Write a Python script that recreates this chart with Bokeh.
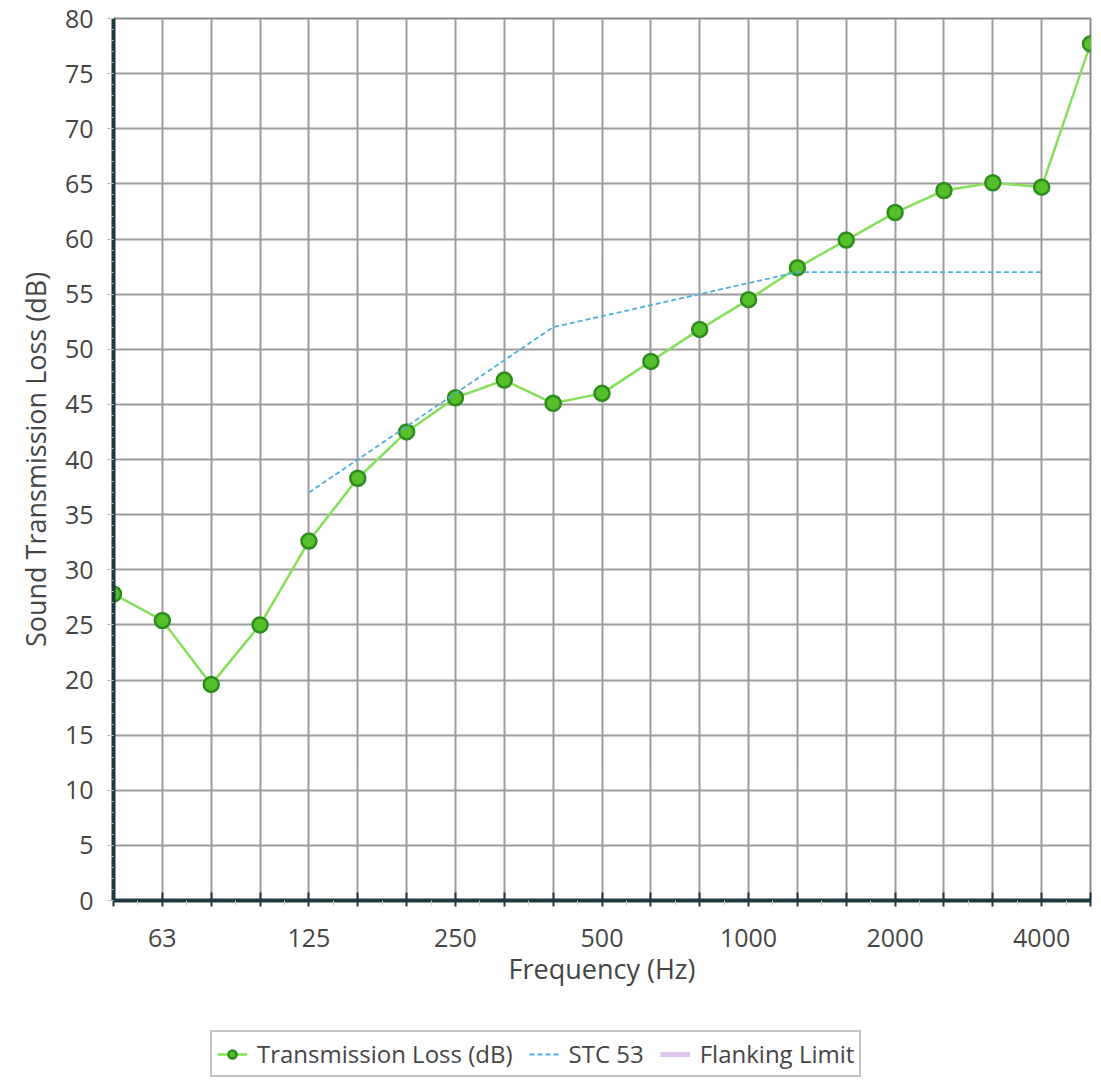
from bokeh.plotting import figure
from bokeh.layouts import column
from bokeh.models import Range1d, FixedTicker, Legend, LegendItem, ColumnDataSource
from bokeh.embed import file_html
from bokeh.resources import INLINE

# 1/3-octave bands (Hz)
bands = [50, 63, 80, 100, 125, 160, 200, 250, 315, 400, 500, 630, 800,
         1000, 1250, 1600, 2000, 2500, 3150, 4000, 5000]
tl_values = [27.8, 25.4, 19.6, 25.0, 32.6, 38.3, 42.5, 45.6, 47.2, 45.1, 46.0,
             48.9, 51.8, 54.5, 57.4, 59.9, 62.4, 64.4, 65.1, 64.7, 77.7]
stc_bands = [125, 160, 200, 250, 315, 400, 500, 630, 800, 1000, 1250, 1600,
             2000, 2500, 3150, 4000]
stc_values = [37, 40, 43, 46, 49, 52, 53, 54, 55, 56, 57, 57, 57, 57, 57, 57]
label_bands = [63, 125, 250, 500, 1000, 2000, 4000]
y_ticks = list(range(0, 81, 5))

idx = {b: i for i, b in enumerate(bands)}
tl_src = ColumnDataSource(dict(x=[idx[b] for b in bands], y=tl_values))
stc_src = ColumnDataSource(dict(x=[idx[b] for b in stc_bands], y=stc_values))

FONT = "Open Sans"
TXT = "#454545"
AXC = "#1e3a3e"
TL_LINE = dict(line_color="#86e05a", line_width=2.5)
TL_PTS = dict(size=15, fill_color="#55c02a", line_color="#2d8a1c", line_width=2.5)
STC = dict(line_color="#4fb0dc", line_width=1.8, line_dash="5 3")
FLANK = dict(line_color="#dcc4ec", line_width=5)

p = figure(frame_width=977, frame_height=882, output_backend="svg",
           toolbar_location=None, x_range=Range1d(0, len(bands) - 1),
           y_range=Range1d(0, 80),
           min_border_left=113, min_border_top=18, min_border_right=10,
           min_border_bottom=98)
p.outline_line_color = "#8a8a8a"
p.outline_line_width = 2
p.background_fill_color = "white"
p.border_fill_color = "white"

# x axis
xa = p.xaxis[0]
xa.ticker = FixedTicker(ticks=list(range(len(bands))),
                        minor_ticks=[i + 0.5 for i in range(len(bands) - 1)])
xa.major_label_overrides = {i: (str(b) if b in label_bands else "") for i, b in enumerate(bands)}
xa.axis_line_color = AXC
xa.axis_line_width = 4
xa.major_tick_in = 8
xa.major_tick_out = 6
xa.major_tick_line_color = AXC
xa.major_tick_line_width = 2
xa.minor_tick_in = 0
xa.minor_tick_out = 5
xa.minor_tick_line_color = "#c8c8c8"
xa.major_label_standoff = 22
xa.major_label_text_font = FONT
xa.major_label_text_font_size = "25px"
xa.major_label_text_color = TXT
xa.axis_label = "Frequency (Hz)"
xa.axis_label_text_font = FONT
xa.axis_label_text_font_size = "27px"
xa.axis_label_text_font_style = "normal"
xa.axis_label_text_color = TXT
xa.axis_label_standoff = 0

# y axis
ya = p.yaxis[0]
ya.ticker = FixedTicker(ticks=y_ticks, minor_ticks=[v + 1 for v in range(0, 80)])
ya.axis_line_color = AXC
ya.axis_line_width = 4
ya.major_tick_in = 0
ya.major_tick_out = 6
ya.major_tick_line_color = "#bbbbbb"
ya.minor_tick_in = 0
ya.minor_tick_out = 3
ya.minor_tick_line_color = "#cccccc"
ya.major_label_standoff = 14
ya.major_label_text_font = FONT
ya.major_label_text_font_size = "25px"
ya.major_label_text_color = TXT
ya.axis_label = "Sound Transmission Loss (dB)"
ya.axis_label_text_font = FONT
ya.axis_label_text_font_size = "27px"
ya.axis_label_text_font_style = "normal"
ya.axis_label_text_color = TXT
ya.axis_label_standoff = 8

for g in (p.xgrid[0], p.ygrid[0]):
    g.grid_line_color = "#9c9c9c"
    g.grid_line_width = 2
p.ygrid[0].ticker = FixedTicker(ticks=y_ticks)
p.xgrid[0].ticker = FixedTicker(ticks=list(range(len(bands))))

# series
p.line("x", "y", source=tl_src, **TL_LINE)
p.scatter("x", "y", source=tl_src, **TL_PTS)
p.line("x", "y", source=stc_src, **STC)

# legend strip below the chart (its renderers lie outside its visible range)
lg = figure(width=1090, height=84, output_backend="svg", toolbar_location=None,
            x_range=Range1d(-100, -99), y_range=Range1d(-100, -99),
            min_border=0, outline_line_color=None)
lg.axis.visible = False
lg.grid.visible = False
r1 = lg.line("x", "y", source=tl_src, **TL_LINE)
r2 = lg.scatter("x", "y", source=tl_src, **TL_PTS)
r3 = lg.line("x", "y", source=stc_src, **STC)
r4 = lg.line("x", "y", source=stc_src, **FLANK)

legend = Legend(items=[
    LegendItem(label="Transmission Loss (dB)", renderers=[r1, r2]),
    LegendItem(label="STC 53", renderers=[r3]),
    LegendItem(label="Flanking Limit", renderers=[r4]),
], orientation="horizontal", location=(97, 5))
legend.label_text_font = FONT
legend.label_text_font_size = "24px"
legend.label_text_color = TXT
legend.border_line_color = "#8a8a8a"
legend.border_line_width = 2
legend.glyph_width = 30
legend.spacing = 16
legend.padding = 5
legend.margin = 0
legend.label_standoff = 10
lg.add_layout(legend, "center")

open("out.html", "w").write(file_html(column(p, lg, spacing=0), INLINE))
